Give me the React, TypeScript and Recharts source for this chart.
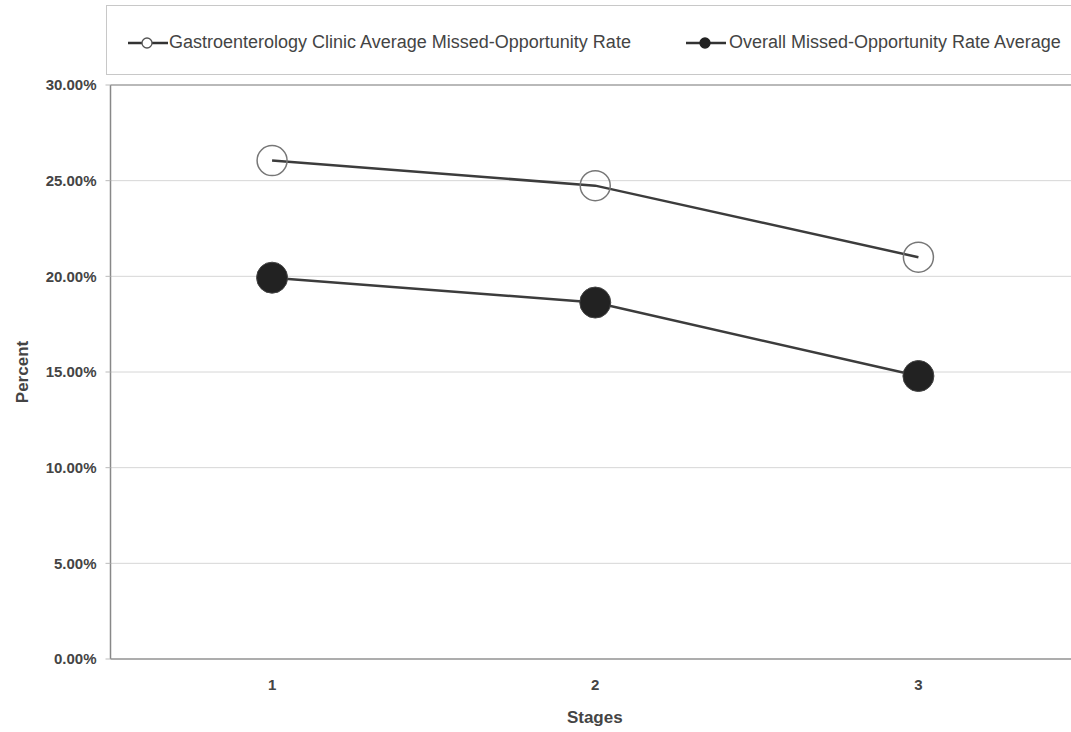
import React from 'react';
import { LineChart, Line, XAxis, YAxis, CartesianGrid, Legend, ReferenceLine } from 'recharts';

const stages = ['1', '2', '3'];
const gastroRate = [26.05, 24.74, 21.0];
const overallRate = [19.93, 18.63, 14.79];
const yTicks = [0, 5, 10, 15, 20, 25, 30];
const gastroName = 'Gastroenterology Clinic Average Missed-Opportunity Rate';
const overallName = 'Overall Missed-Opportunity Rate Average';

const data = stages.map((s, i) => ({ stage: s, gastro: gastroRate[i], overall: overallRate[i] }));

const FONT = '"Liberation Sans", Arial, Helvetica, sans-serif';

const LegendIcon = ({ filled }: { filled: boolean }) => (
  <svg width={40} height={16} style={{ display: 'block' }}>
    <line x1={0} y1={8} x2={40} y2={8} stroke="#333" strokeWidth={2.5} />
    <circle cx={19} cy={8} r={5} fill={filled ? '#222' : 'white'} stroke={filled ? '#222' : '#555'} strokeWidth={1.3} />
  </svg>
);

const renderLegend = () => (
  <div
    style={{
      position: 'relative',
      width: 980,
      height: 70,
      border: '1.5px solid #c8c8c8',
      boxSizing: 'border-box',
      fontFamily: FONT,
      fontSize: 18,
      color: '#444',
      background: 'white',
    }}
  >
    <div style={{ position: 'absolute', left: 21, top: 26, display: 'flex', alignItems: 'center', whiteSpace: 'nowrap' }}>
      <LegendIcon filled={false} />
      <span style={{ marginLeft: 1 }}>{gastroName}</span>
    </div>
    <div style={{ position: 'absolute', left: 579, top: 26, display: 'flex', alignItems: 'center', whiteSpace: 'nowrap' }}>
      <LegendIcon filled={true} />
      <span style={{ marginLeft: 3 }}>{overallName}</span>
    </div>
  </div>
);

const tickStyle = { fontSize: 15, fontWeight: 700, fill: '#444', fontFamily: FONT };

export default function App() {
  return (
    <div style={{ position: 'relative', width: 1071, height: 732, overflow: 'hidden', background: 'white' }}>
      <style>{`html, body { margin: 0 !important; padding: 0 !important; overflow: hidden; background: white; } #root { overflow: visible !important; }`}</style>
      <LineChart width={1071} height={732} data={data} margin={{ top: 85, right: 0, bottom: 0, left: 0 }} style={{ overflow: 'visible' }}>
        <CartesianGrid vertical={false} stroke="#d6d6d6" strokeWidth={1} />
        <ReferenceLine y={30} stroke="#a8a8a8" strokeWidth={1.5} />
        <XAxis
          dataKey="stage"
          scale="band"
          padding={{ left: 0, right: -9 }}
          height={73}
          tickLine={false}
          tickSize={0}
          tickMargin={20}
          axisLine={{ stroke: '#999', strokeWidth: 1.5 }}
          tick={tickStyle}
          label={{ value: 'Stages', position: 'insideBottom', offset: 9, dx: 4, style: { fontSize: 17, fontWeight: 700, fill: '#444', fontFamily: FONT } }}
        />
        <YAxis
          width={110.5}
          domain={[0, 30]}
          ticks={yTicks}
          interval={0}
          tickFormatter={(v: number) => v.toFixed(2) + '%'}
          tickSize={5}
          tickMargin={9}
          tickLine={{ stroke: '#bbb' }}
          axisLine={{ stroke: '#888', strokeWidth: 1.5 }}
          tick={tickStyle}
          label={{ value: 'Percent', angle: -90, position: 'insideLeft', offset: 22, style: { textAnchor: 'middle', fontSize: 17, fontWeight: 700, fill: '#444', fontFamily: FONT } }}
        />
        <Legend
          verticalAlign="middle"
          align="center"
          layout="horizontal"
          content={renderLegend}
          wrapperStyle={{ position: 'absolute', top: 5, left: 106, width: 980, height: 70 }}
        />
        <Line
          dataKey="gastro"
          name={gastroName}
          stroke="#3c3c3c"
          strokeWidth={2.5}
          isAnimationActive={false}
          dot={{ r: 15, fill: 'none', stroke: '#777', strokeWidth: 1.5 }}
          activeDot={false}
        />
        <Line
          dataKey="overall"
          name={overallName}
          stroke="#3c3c3c"
          strokeWidth={2.5}
          isAnimationActive={false}
          dot={{ r: 15.5, fill: '#222', stroke: '#444', strokeWidth: 1 }}
          activeDot={false}
        />
      </LineChart>
    </div>
  );
}
